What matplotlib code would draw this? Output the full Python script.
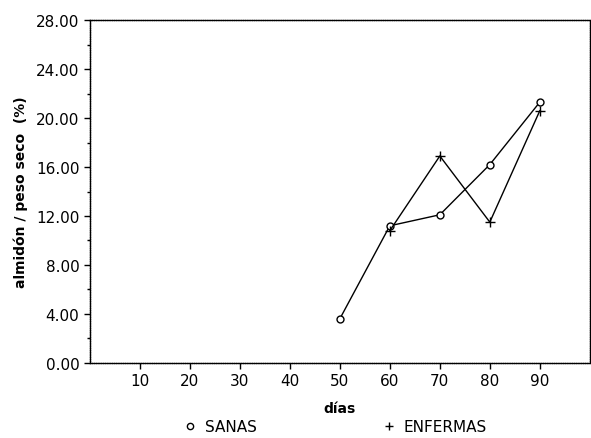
import matplotlib
matplotlib.use("Agg")
import matplotlib.pyplot as plt
from matplotlib.ticker import MultipleLocator, FormatStrFormatter

# data
dias_sanas = [50, 60, 70, 80, 90]
sanas = [3.6, 11.2, 12.1, 16.2, 21.3]
dias_enfermas = [60, 70, 80, 90]
enfermas = [10.8, 16.9, 11.5, 20.6]
x_ticks = [10, 20, 30, 40, 50, 60, 70, 80, 90]

fig = plt.figure(figsize=(5.91, 4.39), dpi=100)
ax = fig.add_axes([0.152, 0.171, 0.846, 0.781])

ax.plot(dias_sanas, sanas, color="black", lw=1.0, marker="o", ms=5,
        mfc="white", mec="black", mew=1.0, label="SANAS")
ax.plot(dias_enfermas, enfermas, color="black", lw=1.0, marker="+", ms=7,
        mew=1.0, label="ENFERMAS")

ax.set_xlim(0, 100)
ax.set_ylim(0, 28)
ax.set_xticks(x_ticks)
ax.yaxis.set_major_locator(MultipleLocator(4))
ax.yaxis.set_minor_locator(MultipleLocator(2))
ax.yaxis.set_major_formatter(FormatStrFormatter("%.2f"))
ax.tick_params(axis="both", which="major", length=4, width=1, labelsize=11)
ax.tick_params(axis="y", which="minor", length=2.5, width=1)
for s in ax.spines.values():
    s.set_linewidth(1.0)
    s.set_linestyle((0, (1, 0.6)))

ax.set_xlabel("días", fontsize=10, fontweight="bold", labelpad=9)
ax.set_ylabel("almidón / peso seco  (%)", fontsize=10, fontweight="bold", labelpad=6)

fig.legend(loc="lower center", bbox_to_anchor=(0.565, -0.022), ncol=2,
           frameon=False, columnspacing=8, handletextpad=0.4, handlelength=1.2,
           fontsize=11, markerscale=0.9)

# legend entries show only markers, like the original
leg = fig.legends[0]
for h in leg.legend_handles:
    h.set_linestyle("none")

fig.savefig("out.png", dpi=100)
